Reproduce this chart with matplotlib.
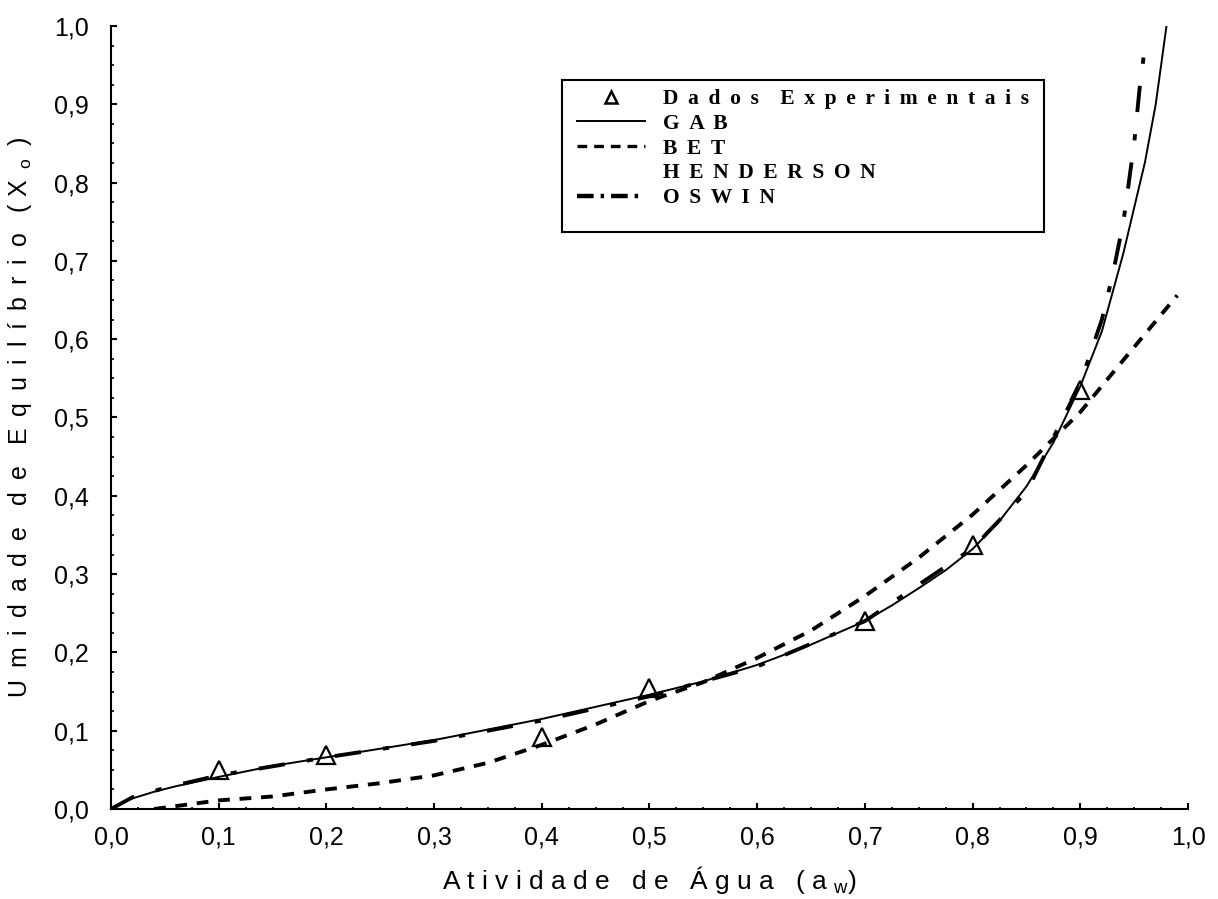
import matplotlib
matplotlib.use("Agg")
import matplotlib.pyplot as plt
from matplotlib.ticker import FixedLocator, AutoMinorLocator
from matplotlib.lines import Line2D
from matplotlib.patches import Rectangle

# ---------------- data ----------------
aw_exp = [0.1, 0.2, 0.4, 0.5, 0.7, 0.8, 0.9]
x_exp = [0.050, 0.069, 0.092, 0.154, 0.240, 0.337, 0.535]

aw_gab = [0.0, 0.01, 0.02, 0.04, 0.06, 0.08, 0.1, 0.15, 0.2, 0.3, 0.4, 0.5, 0.55,
          0.6, 0.65, 0.7, 0.725, 0.75, 0.775, 0.8, 0.825, 0.85, 0.875, 0.9, 0.92,
          0.94, 0.96, 0.97, 0.98]
x_gab = [0.0, 0.008, 0.0135, 0.022, 0.029, 0.035, 0.041, 0.055, 0.066, 0.088, 0.115,
         0.146, 0.163, 0.184, 0.210, 0.240, 0.260, 0.282, 0.305, 0.332, 0.368, 0.412,
         0.468, 0.540, 0.610, 0.710, 0.826, 0.900, 1.0]

aw_bet = [0.04, 0.1, 0.15, 0.2, 0.25, 0.3, 0.35, 0.4, 0.45, 0.5, 0.55, 0.6, 0.65,
          0.7, 0.75, 0.8, 0.85, 0.9, 0.95, 0.99]
x_bet = [0.0, 0.011, 0.016, 0.025, 0.033, 0.043, 0.059, 0.082, 0.108, 0.138, 0.162,
         0.193, 0.228, 0.272, 0.321, 0.376, 0.439, 0.507, 0.590, 0.656]

aw_hend = [0.0, 0.1, 0.2, 0.3, 0.4, 0.5, 0.6, 0.64, 0.7, 0.8, 0.875, 0.9, 0.95, 0.99]
x_hend = [0.0, 0.030, 0.055, 0.080, 0.110, 0.150, 0.195, 0.218, 0.260, 0.350, 0.470,
          0.530, 0.680, 0.850]

aw_osw = [0.0, 0.02, 0.05, 0.1, 0.2, 0.3, 0.4, 0.5, 0.6, 0.7, 0.8, 0.85, 0.9, 0.92,
          0.93, 0.94, 0.95, 0.955, 0.961]
x_osw = [0.0, 0.015, 0.027, 0.043, 0.066, 0.087, 0.113, 0.144, 0.182, 0.240, 0.333,
         0.405, 0.544, 0.625, 0.682, 0.750, 0.850, 0.920, 0.985]

ticks = [0.0, 0.1, 0.2, 0.3, 0.4, 0.5, 0.6, 0.7, 0.8, 0.9, 1.0]
tick_labels = ["0,0", "0,1", "0,2", "0,3", "0,4", "0,5", "0,6", "0,7", "0,8", "0,9", "1,0"]

G = " \u2009"  # letter gap
W = "    "     # word gap


def spaced(word, gap=G):
    return gap.join(word)


legend_labels = [spaced("Dados") + W + spaced("Experimentais"),
                 spaced("GAB"),
                 spaced("BET"),
                 spaced("HENDERSON"),
                 spaced("OSWIN")]

xlabel = "A t i v i d a d e   d e   Á g u a   ( a $_{\\mathrm{w}}$)"
ylabel = (spaced("Umidade") + "   " + spaced("de") + "   " + spaced("Equilíbrio")
          + "   ( X" + G + "$_{\\mathrm{o}}$" + G + ")")

# ---------------- style ----------------
plt.rcParams["font.family"] = ["Liberation Sans", "DejaVu Sans"]
plt.rcParams["mathtext.fontset"] = "custom"
plt.rcParams["mathtext.rm"] = "Liberation Sans"
plt.rcParams["mathtext.it"] = "Liberation Sans:italic"
plt.rcParams["lines.scale_dashes"] = False

fig = plt.figure(figsize=(12.18, 8.99), dpi=100)
ax = fig.add_axes([0.0911, 0.1001, 0.8843, 0.8710])

ax.plot(aw_hend, x_hend, color="white", lw=1.0, zorder=1)
ax.plot(aw_bet, x_bet, color="black", lw=2.8, dashes=(8.5, 7.0), zorder=2)
ax.plot(aw_osw, x_osw, color="black", lw=2.8, dashes=(19, 16, 4.5, 16), zorder=3)
ax.plot(aw_gab, x_gab, color="black", lw=1.4, zorder=4)
ax.plot(aw_exp, x_exp, linestyle="none", marker="^", markersize=13,
        markerfacecolor="none", markeredgecolor="black", markeredgewidth=1.6, zorder=5)

ax.set_xlim(0, 1)
ax.set_ylim(0, 1)
for s in ["top", "right"]:
    ax.spines[s].set_visible(False)
for s in ["left", "bottom"]:
    ax.spines[s].set_linewidth(1.5)

ax.xaxis.set_major_locator(FixedLocator(ticks))
ax.yaxis.set_major_locator(FixedLocator(ticks))
ax.set_xticklabels(tick_labels)
ax.set_yticklabels(tick_labels)
ax.xaxis.set_minor_locator(AutoMinorLocator(4))
ax.yaxis.set_minor_locator(AutoMinorLocator(4))
ax.tick_params(which="major", direction="in", length=4, width=1.5, labelsize=18)
ax.tick_params(which="minor", direction="in", length=1.8, width=1.2)
ax.tick_params(axis="x", which="major", pad=12)
ax.tick_params(axis="y", which="major", pad=16)

ax.set_xlabel(xlabel, fontsize=19, labelpad=10)
ax.set_ylabel(ylabel, fontsize=18, labelpad=14)

# legend: frame drawn as a plain rectangle behind the legend entries
frame = Rectangle((562 / 1218, 1 - 232 / 899), (1044 - 562) / 1218, 152 / 899,
                  transform=fig.transFigure, facecolor="white", edgecolor="black",
                  linewidth=1.5, zorder=6, clip_on=False)
ax.add_artist(frame)

handles = [
    Line2D([], [], linestyle="none", marker="^", markersize=9, markerfacecolor="none",
           markeredgecolor="black", markeredgewidth=1.8),
    Line2D([], [], color="black", lw=1.4),
    Line2D([], [], color="black", lw=2.4, dashes=(7, 5)),
    Line2D([], [], color="white", lw=1.0),
    Line2D([], [], color="black", lw=3.2, dashes=(12, 5, 2.5, 5)),
]
leg = ax.legend(handles, legend_labels, loc="upper left",
                bbox_to_anchor=(577 / 1218, 1 - 89 / 899),
                bbox_transform=fig.transFigure,
                prop={"family": "Liberation Serif", "weight": "bold", "size": 15.5},
                frameon=False, handlelength=3.16, handletextpad=0.84,
                labelspacing=0.22, borderpad=0, borderaxespad=0)
leg.set_zorder(8)

fig.savefig("out.png", dpi=100)
